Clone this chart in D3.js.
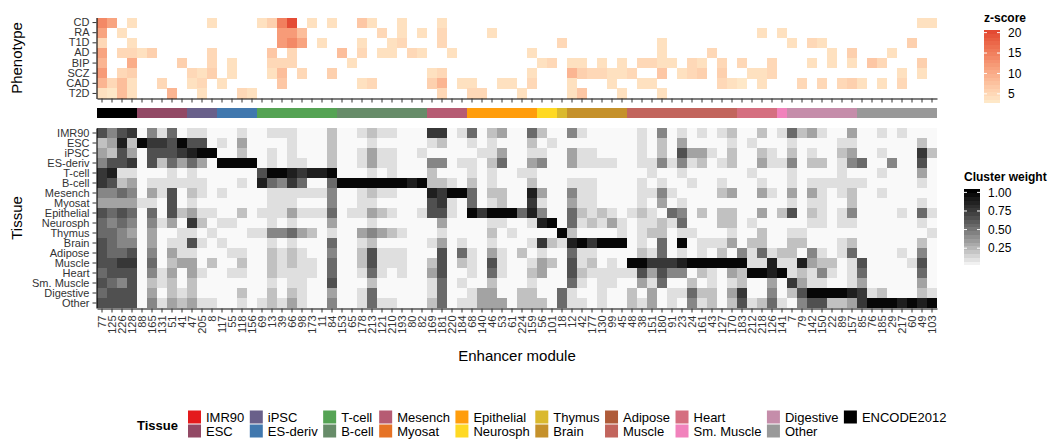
<!DOCTYPE html>
<html>
<head>
<meta charset="utf-8">
<script src="https://cdn.jsdelivr.net/npm/d3@7"></script>
<style>
  body { margin: 0; background: #fff; }
  svg { font-family: "Liberation Sans", Arial, sans-serif; }
</style>
</head>
<body>
<svg id="chart" width="1055" height="439"></svg>
<script>
// enhancer modules, in plotting order
const modules = ["77","125","226","128","88","165","131","51","41","47","205","8","117","55","118","156","69","13","39","66","98","173","11","84","153","65","178","213","121","210","193","80","82","169","181","220","184","68","140","46","53","61","224","159","56","101","18","12","42","177","130","99","45","48","38","151","180","91","23","24","161","43","127","170","183","212","218","126","141","7","79","142","150","22","89","157","85","76","185","29","217","60","49","103"];

// tissue group of each module (run lengths, left to right)
const groupRuns = [["ENCODE2012",4],["ESC",5],["iPSC",3],["ES-deriv",4],["T-cell",8],["B-cell",9],["Mesench",4],["Epithelial",7],["Neurosph",2],["Thymus",1],["Brain",6],["Muscle",11],["Heart",4],["Sm. Muscle",1],["Digestive",7],["Other",8]];

const phenotypes = ["CD","RA","T1D","AD","BIP","SCZ","CAD","T2D"];
const tissues = ["IMR90","ESC","iPSC","ES-deriv","T-cell","B-cell","Mesench","Myosat","Epithelial","Neurosph","Thymus","Brain","Adipose","Muscle","Heart","Sm. Muscle","Digestive","Other"];
const legendTissues = ["IMR90","ESC","iPSC","ES-deriv","T-cell","B-cell","Mesench","Myosat","Epithelial","Neurosph","Thymus","Brain","Adipose","Muscle","Heart","Sm. Muscle","Digestive","Other","ENCODE2012"];

// z-score per phenotype row, one char per module ("." = none, else base-36 value), blocks of 10
const phenoZ = [
  "eb.4...... .4....46fk .4.4..74.. 4...4..... .......... .......... .......... .......... ..44",
  "b.4....... ........cc 8.......5. 4.4.5....4 .......... .......... ......4.4. .......... ....",
  "5..4...... ........ce b.4...4..4 5...5..... ......5... ......4... .........4 .54....... .6..",
  "b.5546.... .5.....7.5 ....8.5.44 .54..4.... ...4...... ......4... .5........ ...4.6...4 ....",
  "9..a....6. .5.4...555 .....4.... .......... ....45.44. 4.4.5544.5 4.5.5..5.. .4.4.4.75. ..6.",
  "c.56.....5 46.4...48. 5..6...... ...45..... ...4...965 5445..7.45 6.6..445.. .......... 4.4.",
  "9584..5..4 5.4.....7. ......45.. ...69.44.. 44.5...4.. .4..44.... ..543.4... 5.5.564.4. 5...",
  "4384...9.. 4...54.... .......... ....5..55. ..4....47. ..4...4... .......... .......... ...."
];

// cluster weight per tissue row, one level digit per module, blocks of 10
const weightLevels = [0.02, 0.11, 0.22, 0.33, 0.44, 0.55, 0.66, 0.77, 0.88, 0.98];
const tissueW = [
  "6467041501 1000100111 0002001211 0007701502 3005200410 0000104010 1012002015 2310030010 1000",
  "2382977696 6010300001 0002000100 0001200101 0002010000 0000102030 0001010001 0000110000 0020",
  "3263066678 9900200101 0002001311 0010000011 3001100311 0000102063 3102002102 0100230010 0072",
  "4667062535 3099990101 1002001311 0004401102 5003400311 1100114141 2012003114 0220145004 0060",
  "7811000101 0000006998 7889000101 0002000101 0011000000 0000010010 0000010001 0000100010 0030",
  "7623011111 1000108547 5005999999 9892210201 0002000111 0000101001 0010001001 0111111000 0010",
  "4454031602 1010000111 1114001211 0008799502 2008300411 0000114100 0023003103 0310120010 0000",
  "3333110601 0000000111 0004001100 0006710501 2007100311 0000103010 0000000001 0110020000 0010",
  "6565050623 1100201113 1115011321 0016610979 9958400521 2101210540 2022003026 0210140000 1051",
  "5454041307 2011000101 0003000100 0000300001 1001890512 1310112150 0022010000 0110110000 0010",
  "5543030011 0100011445 3201003432 1000100002 0100009200 0010122011 0001002001 1000000000 0001",
  "6544030116 1010000101 0005001200 0001301001 0001721897 9990105090 1113022002 2000120000 0020",
  "6556040311 0001100212 1004002611 1000605103 1020100511 0000215010 1020415122 0410150000 1040",
  "6677050233 0200200212 1105002611 1002602106 1001320612 0109977789 9999911811 8322016000 0160",
  "5666041303 1001100211 1105001510 1003600105 1002300621 1111636440 2103299891 2141015000 0050",
  "6546021202 0000000101 1006000200 0001501002 0001000510 1100315002 0101200307 3110013000 0030",
  "5666030212 0000200202 1003001500 0001500133 0022005100 1002030115 2203700402 6999987120 0021",
  "6666041323 1100101213 1004001511 0002501133 3022205110 1002130104 1202612510 4662237999 8989"
];

// ---------------------------------------------------------------
const tissueColor = {
  "IMR90": "#E41A1C", "ESC": "#924965", "iPSC": "#69608A", "ES-deriv": "#4178AE",
  "T-cell": "#55A354", "B-cell": "#678C69", "Mesench": "#B65C73", "Myosat": "#E67326",
  "Epithelial": "#FF9D0C", "Neurosph": "#FFD924", "Thymus": "#DAB92E", "Brain": "#C5912B",
  "Adipose": "#AF5B39", "Muscle": "#C2655D", "Heart": "#D56F80", "Sm. Muscle": "#F182BC",
  "Digestive": "#C58DAA", "Other": "#999999", "ENCODE2012": "#000000"
};

const Left = 97, Right = 937;
const idx = d3.range(modules.length);
const moduleGroup = groupRuns.flatMap(([g, n]) => d3.range(n).map(() => g));

const x = d3.scaleBand().domain(idx).range([Left, Right]);
const yP = d3.scaleBand().domain(phenotypes).range([17.5, 98.5]);
const yT = d3.scaleBand().domain(tissues).range([128, 308]);

const zLim = [3.2, 20.2];
const wLim = [0.05, 1.02];
const zColor = d3.scaleLinear().domain(zLim).range(["#fee8c8", "#e34a33"]).interpolate(d3.interpolateLab).clamp(true);
const wColor = d3.scaleLinear().domain([0, 1]).range(["#ffffff", "#000000"]).interpolate(d3.interpolateLab).clamp(true);

const svg = d3.select("#chart");
const chars = s => [...s.replace(/ /g, "")].slice(0, modules.length);

// phenotype heatmap
const phenoCells = [];
phenoZ.forEach((row, r) => {
  chars(row).forEach((ch, c) => {
    if (ch !== ".") phenoCells.push({ p: phenotypes[r], i: c, z: parseInt(ch, 36) });
  });
});
svg.append("g").selectAll("rect")
  .data(phenoCells)
  .join("rect")
  .attr("x", d => x(d.i))
  .attr("y", d => yP(d.p))
  .attr("width", x.bandwidth() + 0.3)
  .attr("height", yP.bandwidth() + 0.3)
  .attr("fill", d => zColor(d.z))
  .attr("shape-rendering", "crispEdges");

// tissue group colour bar
svg.append("g").selectAll("rect")
  .data(idx)
  .join("rect")
  .attr("x", i => x(i))
  .attr("y", 108)
  .attr("width", x.bandwidth() + 0.3)
  .attr("height", 10)
  .attr("fill", i => tissueColor[moduleGroup[i]])
  .attr("shape-rendering", "crispEdges");

// tissue heatmap
const wCells = [];
tissueW.forEach((row, r) => {
  chars(row).forEach((ch, c) => {
    wCells.push({ t: tissues[r], i: c, w: weightLevels[+ch] });
  });
});
svg.append("g").selectAll("rect")
  .data(wCells)
  .join("rect")
  .attr("x", d => x(d.i))
  .attr("y", d => yT(d.t))
  .attr("width", x.bandwidth() + 0.3)
  .attr("height", yT.bandwidth() + 0.3)
  .attr("fill", d => wColor(d.w))
  .attr("shape-rendering", "crispEdges");

// axes
function styleAxis(g) {
  g.select(".domain").attr("stroke", "#000").attr("stroke-width", 1.1);
  g.selectAll(".tick line").attr("stroke", "#333");
  g.selectAll(".tick text").attr("fill", "#333").attr("font-size", 11);
}
svg.append("g")
  .attr("transform", `translate(${Left - 0.5},0)`)
  .call(d3.axisLeft(yP).tickSize(4).tickPadding(3).tickSizeOuter(0))
  .call(styleAxis);
svg.append("g")
  .attr("transform", `translate(0,${98.5})`)
  .call(d3.axisBottom(x).tickSize(4).tickFormat("").tickSizeOuter(0))
  .call(styleAxis);
svg.append("g")
  .attr("transform", `translate(${Left - 0.5},0)`)
  .call(d3.axisLeft(yT).tickSize(4).tickPadding(3).tickSizeOuter(0))
  .call(styleAxis);
svg.append("g")
  .attr("transform", `translate(0,${308.5})`)
  .call(d3.axisBottom(x).tickSize(4).tickFormat(i => modules[i]).tickSizeOuter(0))
  .call(styleAxis)
  .call(g => g.selectAll(".tick text")
    .attr("transform", "rotate(-90)")
    .attr("text-anchor", "end")
    .attr("x", -7)
    .attr("y", 0)
    .attr("dy", "0.35em"));

// axis titles
svg.append("text").attr("transform", "translate(22,58) rotate(-90)")
  .attr("text-anchor", "middle").attr("font-size", 15).text("Phenotype");
svg.append("text").attr("transform", "translate(22,218) rotate(-90)")
  .attr("text-anchor", "middle").attr("font-size", 15).text("Tissue");
svg.append("text").attr("x", (Left + Right) / 2).attr("y", 361)
  .attr("text-anchor", "middle").attr("font-size", 15).text("Enhancer module");

// colourbar legends (banded, 20 bins)
function colorbar(x0, y0, w, h, lim, color, ticks, fmt, title, titleX) {
  const nbin = 20, bin = h / nbin;
  const g = svg.append("g");
  g.append("text").attr("x", titleX).attr("y", y0 - 8)
    .attr("font-size", 12).attr("font-weight", "bold").text(title);
  const vals = d3.range(nbin).map(k => lim[0] + k * (lim[1] - lim[0]) / (nbin - 1));
  g.selectAll("rect").data(vals).join("rect")
    .attr("x", x0).attr("width", w)
    .attr("y", (v, k) => y0 + h - (k + 1) * bin).attr("height", bin + 0.3)
    .attr("fill", v => color(v)).attr("shape-rendering", "crispEdges");
  const pos = d3.scaleLinear().domain(lim).range([y0 + h - bin / 2, y0 + bin / 2]);
  const tk = g.selectAll("g.tk").data(ticks).join("g").attr("class", "tk")
    .attr("transform", v => `translate(0,${pos(v)})`);
  tk.append("line").attr("x1", x0).attr("x2", x0 + 3).attr("stroke", "#fff");
  tk.append("line").attr("x1", x0 + w - 3).attr("x2", x0 + w).attr("stroke", "#fff");
  tk.append("text").attr("x", x0 + w + 8).attr("dy", "0.35em")
    .attr("font-size", 12).attr("fill", "#000").text(fmt);
}
colorbar(984, 30, 16, 73, zLim, zColor, [5, 10, 15, 20], d3.format("d"), "z-score", 984);
colorbar(964, 189, 16, 76, wLim, wColor, [0.25, 0.5, 0.75, 1], d3.format(".2f"), "Cluster weight", 964);

// tissue legend at bottom
const lg = svg.append("g");
lg.append("text").attr("x", 137).attr("y", 425).attr("dy", "0.35em")
  .attr("font-size", 13).attr("font-weight", "bold").text("Tissue");
const rowsY = [410.5, 424.5];
let colX = 188;
for (let c = 0; c * 2 < legendTissues.length; c++) {
  const items = legendTissues.slice(c * 2, c * 2 + 2);
  let maxW = 0;
  items.forEach((name, r) => {
    lg.append("rect").attr("x", colX).attr("y", rowsY[r]).attr("width", 13).attr("height", 13)
      .attr("fill", tissueColor[name]);
    const t = lg.append("text").attr("x", colX + 18).attr("y", rowsY[r] + 6.5).attr("dy", "0.35em")
      .attr("font-size", 13).text(name);
    maxW = Math.max(maxW, t.node().getComputedTextLength());
  });
  colX += 18 + maxW + 5.5;
}
</script>
</body>
</html>
